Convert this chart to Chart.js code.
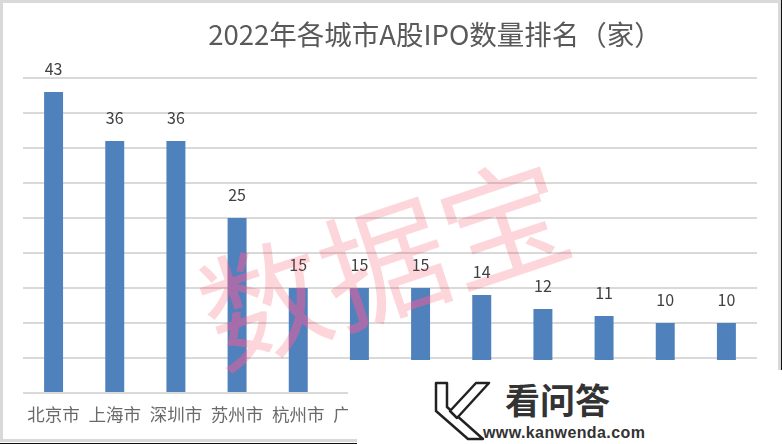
<!DOCTYPE html>
<html>
<head>
<meta charset="utf-8">
<script src="https://cdn.jsdelivr.net/npm/chart.js@4.4.0/dist/chart.umd.min.js"></script>
<style>
  html, body { margin:0; padding:0; background:#fff; }
  #wrap { position:relative; width:782px; height:444px; overflow:hidden; background:#fff; }
  #c { position:absolute; left:0; top:0; }
  .ln { position:absolute; }
  #title { position:absolute; left:0; width:870px; top:17px; text-align:center; white-space:nowrap;
           font-family:"Liberation Sans Narrow","Noto Sans CJK SC",sans-serif; font-size:27.5px; line-height:32px; color:#595959; }
  #cover { position:absolute; left:348px; top:360px; width:434px; height:84px; background:#fff; }
  #brand { position:absolute; left:505px; top:379px; font-family:"Noto Sans CJK SC",sans-serif; font-weight:bold;
           font-size:35px; line-height:40px; color:#333; }
  #url { position:absolute; left:483px; top:424px; font-family:"Liberation Sans",Arial,sans-serif; font-weight:bold;
         font-size:16px; line-height:18px; color:#333; letter-spacing:0.4px; }
</style>
</head>
<body>
<div id="wrap">
  <canvas id="c" width="782" height="444"></canvas>
  <div id="title">2022年各城市A股IPO数量排名（家）</div>
  <div id="cover"></div>
  <svg style="position:absolute;left:0;top:0" width="782" height="444">
    <polygon points="436,383 447,383 447,407 483,439 468,439 436,411" fill="#fff" stroke="#222" stroke-width="2.5" stroke-linejoin="round"/>
    <polygon points="450,411 476,383 489,383 457,418" fill="#fff" stroke="#222" stroke-width="2.5" stroke-linejoin="round"/>
  </svg>
  <div id="brand">看问答</div>
  <div id="url">www.kanwenda.com</div>
  <div class="ln" style="left:0;top:0;width:3px;height:442px;background:#d9d9d9"></div>
  <div class="ln" style="left:0;top:0;width:781px;height:3px;background:#d9d9d9"></div>
  <div class="ln" style="left:778px;top:0;width:3px;height:370px;background:#d9d9d9"></div>
  <div class="ln" style="left:781px;top:0;width:1px;height:370px;background:#111"></div>
  <div class="ln" style="left:0;top:439px;width:357px;height:3px;background:#d9d9d9"></div>
  <div class="ln" style="left:0;top:443px;width:357px;height:1px;background:#111"></div>
</div>
<script>
const categories = ["北京市","上海市","深圳市","苏州市","杭州市","广州市","无锡市","南京市","成都市","宁波市","常州市","合肥市"];
const ipoCounts = [43,36,36,25,15,15,15,14,12,11,10,10];
const yTicks = [0,5,10,15,20,25,30,35,40,45];
const watermarkText = "数据宝";

const latinCjk = '"Liberation Sans Narrow","Noto Sans CJK SC",sans-serif';

const valueLabels = {
  id: 'valueLabels',
  afterDatasetsDraw(chart) {
    const ctx = chart.ctx;
    const meta = chart.getDatasetMeta(0);
    ctx.save();
    ctx.font = '16px ' + latinCjk;
    ctx.fillStyle = '#404040';
    ctx.textAlign = 'center';
    ctx.textBaseline = 'alphabetic';
    meta.data.forEach((el, i) => {
      ctx.fillText(String(ipoCounts[i]), el.x, el.y - 17);
    });
    ctx.restore();
  }
};

const watermark = {
  id: 'watermark',
  afterDraw(chart) {
    const ctx = chart.ctx;
    const meta = chart.getDatasetMeta(0);
    const rects = meta.data.map(el => {
      const p = el.getProps(['x','y','base','width'], true);
      return [p.x - p.width/2, p.y, p.width, p.base - p.y];
    });
    const drawText = (color) => {
      ctx.save();
      ctx.translate(384, 263);
      ctx.rotate(-18.5 * Math.PI / 180);
      ctx.font = '126px "Noto Sans CJK SC",sans-serif';
      ctx.textAlign = 'center';
      ctx.textBaseline = 'middle';
      ctx.fillStyle = color;
      ctx.fillText(watermarkText, 0, 0);
      ctx.restore();
    };
    ctx.save();
    ctx.beginPath();
    ctx.rect(0, 0, chart.width, chart.height);
    rects.forEach(r => ctx.rect(r[0], r[1], r[2], r[3]));
    ctx.clip('evenodd');
    drawText('rgba(240,30,50,0.18)');
    ctx.restore();
    ctx.save();
    ctx.beginPath();
    rects.forEach(r => ctx.rect(r[0], r[1], r[2], r[3]));
    ctx.clip();
    drawText('rgba(251,91,151,0.5)');
    ctx.restore();
  }
};

new Chart(document.getElementById('c'), {
  type: 'bar',
  data: {
    labels: categories,
    datasets: [{
      data: ipoCounts,
      backgroundColor: '#4f81bd',
      borderWidth: 0,
      categoryPercentage: 1,
      barPercentage: 0.31
    }]
  },
  options: {
    responsive: false,
    animation: false,
    devicePixelRatio: 1,
    layout: { padding: { left: 23, right: 25, top: 78, bottom: 0 } },
    plugins: { legend: { display: false }, title: { display: false }, tooltip: { enabled: false } },
    scales: {
      x: {
        grid: { display: false, drawTicks: false },
        border: { display: false },
        ticks: { color: '#6a6a6a', font: { size: 17.5, family: '"Noto Sans CJK SC",sans-serif' }, padding: 11, maxRotation: 0, autoSkip: false },
        afterFit(s) { s.height = 51; }
      },
      y: {
        min: 0, max: 45,
        afterBuildTicks(s) { s.ticks = yTicks.map(v => ({ value: v })); },
        ticks: { display: false },
        border: { display: false },
        grid: { color: '#d9d9d9', lineWidth: 2, drawTicks: false },
        afterFit(s) { s.width = 0; }
      }
    }
  },
  plugins: [valueLabels, watermark]
});
</script>
</body>
</html>
